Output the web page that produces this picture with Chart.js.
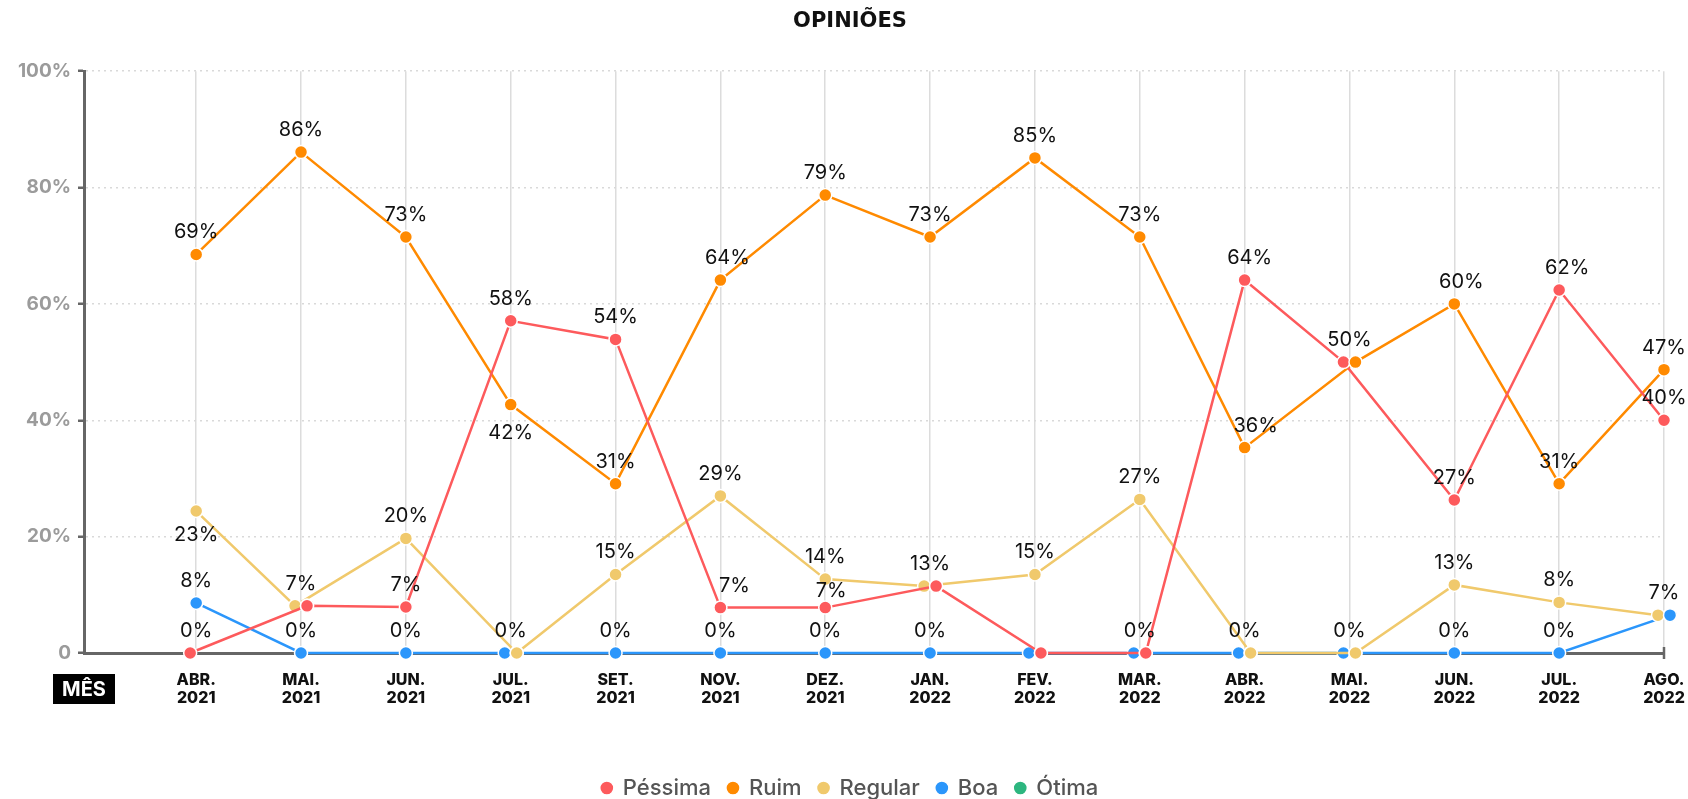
<!DOCTYPE html>
<html><head><meta charset="utf-8">
<script src="https://cdn.jsdelivr.net/npm/chart.js@4.4.0/dist/chart.umd.min.js"></script>
<style>html,body{margin:0;padding:0;background:#fff}#wrap{width:1688px;height:799px;position:relative}</style>
</head><body><div id="wrap"><canvas id="c"></canvas></div>
<script>
// ---- data ----
const categories = [['ABR.','2021'],['MAI.','2021'],['JUN.','2021'],['JUL.','2021'],['SET.','2021'],['NOV.','2021'],['DEZ.','2021'],['JAN.','2022'],['FEV.','2022'],['MAR.','2022'],['ABR.','2022'],['MAI.','2022'],['JUN.','2022'],['JUL.','2022'],['AGO.','2022']];
const seriesNames = ['Péssima','Ruim','Regular','Boa','Ótima'];
const pessima = [0, 8.1, 7.9, 57.1, 53.9, 7.8, 7.8, 11.5, 0, 0, 64.1, 50, 26.3, 62.4, 40];
const ruim    = [68.5, 86.1, 71.5, 42.7, 29.1, 64.1, 78.7, 71.5, 85.1, 71.5, 35.3, 50, 60, 29.1, 48.7];
const regular = [24.4, 8.1, 19.7, 0, 13.5, 27.0, 12.7, 11.5, 13.5, 26.4, 0, 0, 11.7, 8.7, 6.5];
const boa     = [8.6, 0, 0, 0, 0, 0, 0, 0, 0, 0, 0, 0, 0, 0, 6.5];
const otima   = [null, null, null, null, null, null, null, null, null, null, null, null, null, null, null];
// displayed value labels (null = no label shown)
const pessimaLabels = [0, 7, 7, 58, 54, 7, 7, 13, null, 0, 64, 50, 27, 62, 40];
const ruimLabels    = [69, 86, 73, 42, 31, 64, 79, 73, 85, 73, 36, 50, 60, 31, 47];
const regularLabels = [23, 7, 20, 0, 15, 29, 14, 13, 15, 27, 0, 0, 13, 8, 7];
const boaLabels     = [8, 0, 0, 0, 0, 0, 0, 0, null, 0, 0, 0, 0, 0, 7];
const otimaLabels   = [];
const yTicks = [0, 20, 40, 60, 80, 100];
const yTickLabels = ['0', '20%', '40%', '60%', '80%', '100%'];
const colors = ['#fd5a5c', '#ff8a00', '#f0c96c', '#2b96fb', '#2db67f'];

// ---- styling helpers ----
const FONT = "Inter, 'DejaVu Sans', sans-serif";
// horizontal dodge (px) of overlapping markers: dataset index -> {pointIndex: dx}
const D = 6;
const dodge = {
  0: {0: -D, 1: D, 7: D, 8: D, 9: D, 11: -D},
  1: {11: D},
  2: {1: -D, 3: D, 7: -D, 10: D, 11: D, 14: -D},
  3: {3: -D, 8: -D, 9: -D, 10: -D, 11: -D, 14: D}
};
// label placement tweaks: 'dataset:index' -> {dx, dy}; default sits above the marker
const labelTweak = {
  '2:0': {dy: 23}, '1:3': {dy: 27},
  '0:5': {dx: 14}, '0:6': {dx: 6, dy: -18}, '0:10': {dx: 5}, '0:13': {dx: 8},
  '1:5': {dx: 7}, '1:10': {dx: 11}, '1:12': {dx: 7}
};

const allValues = [pessima, ruim, regular, boa, otima];
const allLabels = [pessimaLabels, ruimLabels, regularLabels, boaLabels, otimaLabels];

function mk(i) {
  return {
    label: seriesNames[i],
    data: allValues[i].map((v, k) => ({x: k, y: v})),
    labelsText: allLabels[i],
    borderColor: colors[i], backgroundColor: colors[i],
    pointBackgroundColor: colors[i], pointBorderColor: '#fff',
    pointBorderWidth: 1.5, pointRadius: 6.5, borderWidth: 2.5,
    pointStyle: 'circle', tension: 0, clip: false
  };
}

const dodgePlugin = {
  id: 'dodge',
  afterDatasetsUpdate(chart) {
    chart.data.datasets.forEach((ds, d) => {
      const meta = chart.getDatasetMeta(d);
      const off = dodge[d] || {};
      Object.keys(off).forEach(k => { const el = meta.data[k]; if (el) el.x += off[k]; });
    });
  }
};
const topPointsPlugin = {
  id: 'topPoints',
  afterDatasetsDraw(chart) {
    const ctx = chart.ctx;
    chart.data.datasets.forEach((ds, d) => {
      const meta = chart.getDatasetMeta(d);
      const off = dodge[d] || {};
      Object.keys(off).forEach(k => { if (off[k] > 0 && meta.data[k]) meta.data[k].draw(ctx, chart.chartArea); });
    });
  }
};
const labelsPlugin = {
  id: 'valueLabels',
  afterDatasetsDraw(chart) {
    const ctx = chart.ctx, xs = chart.scales.x;
    const seen = new Set();
    ctx.save();
    ctx.font = "400 20px " + FONT;
    ctx.fillStyle = '#111';
    ctx.textAlign = 'center';
    ctx.textBaseline = 'alphabetic';
    chart.data.datasets.forEach((ds, d) => {
      const meta = chart.getDatasetMeta(d);
      (ds.labelsText || []).forEach((lab, i) => {
        if (lab === null || lab === undefined || !meta.data[i]) return;
        const t = labelTweak[d + ':' + i] || {};
        const x = xs.getPixelForValue(i) + (t.dx || 0);
        const y = meta.data[i].y + (t.dy !== undefined ? t.dy : -23) + 7;
        const txt = lab + '%';
        const key = txt + '|' + Math.round(x) + '|' + Math.round(y);
        if (seen.has(key)) return;
        seen.add(key);
        ctx.fillText(txt, x, y);
      });
    });
    ctx.restore();
  }
};
const decorPlugin = {
  id: 'decor',
  afterDraw(chart) {
    const ctx = chart.ctx, a = chart.chartArea;
    ctx.save();
    // end tick of the category axis
    ctx.strokeStyle = '#666'; ctx.lineWidth = 2.5;
    ctx.beginPath(); ctx.moveTo(a.right, a.bottom - 6); ctx.lineTo(a.right, a.bottom + 6); ctx.stroke();
    // axis title box
    const cx = a.left, cy = a.bottom + 36;
    ctx.fillStyle = '#000';
    ctx.fillRect(cx - 31, cy - 15, 62, 30);
    ctx.fillStyle = '#fff';
    ctx.font = "700 20px " + FONT;
    ctx.textAlign = 'center'; ctx.textBaseline = 'middle';
    ctx.fillText('MÊS', cx, cy + 1);
    ctx.restore();
  }
};

new Chart(document.getElementById('c'), {
  type: 'line',
  data: { datasets: [mk(0), mk(1), mk(2), mk(3), mk(4)] },
  options: {
    responsive: true, maintainAspectRatio: false, animation: false, events: [],
    layout: { padding: { left: 12, right: 0, top: 0, bottom: -10 } },
    scales: {
      x: {
        type: 'linear', min: -1.07, max: categories.length - 1,
        afterBuildTicks: s => { s.ticks = categories.map((_, i) => ({ value: i })); },
        afterFit: s => { s.height = 107; s.paddingRight = 24; s.paddingLeft = 0; },
        grid: { color: '#dcdcdc', lineWidth: 1.5, drawTicks: false },
        border: { color: '#666', width: 3 },
        ticks: {
          padding: 18, autoSkip: false, maxRotation: 0, color: '#111',
          font: { family: FONT, size: 16, weight: '800', lineHeight: 1.15 },
          callback: v => categories[v] || ''
        }
      },
      y: {
        min: 0, max: 100,
        afterFit: s => { s.width = 72; },
        ticks: {
          stepSize: 20, padding: 7, color: '#9b9b9b',
          font: { family: FONT, size: 19, weight: '700' },
          callback: v => yTickLabels[yTicks.indexOf(v)]
        },
        grid: { color: '#d9d9d9', lineWidth: 1.5, tickLength: 6, tickWidth: 2.5, tickColor: '#666', tickBorderDash: [] },
        border: { color: '#666', width: 3, dash: [2, 4] }
      }
    },
    plugins: {
      title: { display: true, text: 'OPINIÕES', color: '#111',
        font: { family: "'DejaVu Sans', sans-serif", size: 21, weight: 'bold', lineHeight: 1.2 },
        padding: { top: 9, bottom: 37 } },
      legend: { position: 'bottom',
        labels: { usePointStyle: true, boxWidth: 10, boxHeight: 10, padding: 17, color: '#555',
          font: { family: FONT, size: 22, weight: '500' } } },
      tooltip: { enabled: false }
    }
  },
  plugins: [dodgePlugin, topPointsPlugin, labelsPlugin, decorPlugin]
});
</script></body></html>
